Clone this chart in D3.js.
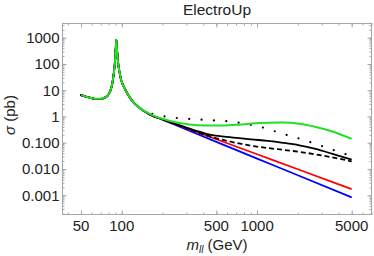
<!DOCTYPE html>
<html><head><meta charset="utf-8">
<script src="https://cdn.jsdelivr.net/npm/d3@7"></script>
<style>
html,body{margin:0;padding:0;background:#fff;}
svg{display:block;font-family:"Liberation Sans",Arial,sans-serif;}
</style></head>
<body><svg id="c" width="374" height="256"></svg>
<script>
// shared low-mass part (all curves coincide)
const massLow  = [50,55,60,65,70,75,80,84,86,88,89,90,90.6,91.2,91.8,92.5,93.5,95,97,100,105,110,118,125,136];
const sigmaLow = [6.5,5.6,5.0,4.7,4.7,5.2,7.0,13,24,60,110,270,520,830,560,300,150,75,40,21,12,7.5,4.3,3.0,2.09];

const massBlue  = [150,161,200,300,500,1000,2000,5000];
const sigmaBlue = [1.48,1.2,0.76,0.32,0.108,0.025,0.0058,0.00083];
const massRed   = [150,161,200,300,500,1000,2000,5000];
const sigmaRed  = [1.48,1.2,0.775,0.359,0.136,0.0365,0.0098,0.00172];
const massDash  = [150,161,200,300,400,500,600,750,900,1200,1600,2000,3000,4000,5000];
const sigmaDash = [1.48,1.2,0.78,0.365,0.21,0.148,0.118,0.092,0.077,0.063,0.053,0.046,0.033,0.025,0.0195];
const massSolid  = [150,161,200,250,300,350,420,550,740,900,1200,1550,2050,2700,3600,5000];
const sigmaSolid = [1.48,1.2,0.79,0.52,0.38,0.29,0.22,0.175,0.15,0.135,0.118,0.1,0.08,0.058,0.038,0.023];
const massDot  = [150,168,208,260,323,405,504,625,780,972,1212,1485,1829,2269,2795,3449,4272,5000];
const sigmaDot = [1.6,1.27,1.0,0.87,0.80,0.75,0.70,0.645,0.55,0.443,0.331,0.233,0.173,0.122,0.086,0.059,0.040,0.031];
const massGreen  = [150,161,180,210,240,317,420,558,741,877,1200,1544,2050,2720,3605,5000];
const sigmaGreen = [1.52,1.25,0.97,0.76,0.63,0.50,0.455,0.45,0.49,0.53,0.58,0.59,0.53,0.40,0.27,0.14];

const xTickVals = [50,100,500,1000,5000];
const xTickLabels = ["50","100","500","1000","5000"];
const yTickVals = [1000,100,10,1,0.1,0.01,0.001];
const yTickLabels = ["1000","100","10","1","0.100","0.010","0.001"];
const title = "ElectroUp";

const svg = d3.select("#c");
const L=62, R=372, T=23, B=215;
const x = d3.scaleLog().domain([36.2,7063]).range([L,R]);
const y = d3.scaleLog().domain([Math.pow(10,-3.75),Math.pow(10,3.56)]).range([B,T]);

// minor ticks
const xMinor=[]; for(let d=10;d<=1000;d*=10){for(let k=1;k<10;k++){const v=k*d; if(v>=x.domain()[0]&&v<=x.domain()[1]) xMinor.push(v);}}
const yMinor=[]; for(let e=-4;e<=3;e++){for(let k=1;k<10;k++){const v=k*Math.pow(10,e); if(v>=y.domain()[0]&&v<=y.domain()[1]) yMinor.push(v);}}
const frameCol="#a6a6a6";

function ticks(axisFn, scale, vals, size, tr){
  const g=svg.append("g").attr("transform",tr).call(axisFn(scale).tickValues(vals).tickSize(size).tickFormat(""));
  g.select(".domain").remove();
  g.selectAll("line").attr("stroke",frameCol).attr("stroke-width",1);
}
ticks(d3.axisBottom,x,xMinor,-2.5,`translate(0,${B})`);
ticks(d3.axisBottom,x,xTickVals,-4.5,`translate(0,${B})`);
ticks(d3.axisTop,x,xMinor,-2.5,`translate(0,${T})`);
ticks(d3.axisTop,x,xTickVals,-4.5,`translate(0,${T})`);
ticks(d3.axisLeft,y,yMinor,-2.5,`translate(${L},0)`);
ticks(d3.axisLeft,y,yTickVals,-4.5,`translate(${L},0)`);
ticks(d3.axisRight,y,yMinor,-2.5,`translate(${R},0)`);
ticks(d3.axisRight,y,yTickVals,-4.5,`translate(${R},0)`);

svg.append("rect").attr("x",L+0.5).attr("y",T+0.5).attr("width",R-L-1).attr("height",B-T-1)
  .attr("fill","none").attr("stroke",frameCol).attr("stroke-width",1);

// tick labels
svg.append("g").selectAll("text").data(xTickVals).join("text")
  .attr("x",d=>x(d)).attr("y",230.5).attr("text-anchor","middle")
  .attr("font-size",15).attr("fill","#222").text((d,i)=>xTickLabels[i]);
svg.append("g").selectAll("text").data(yTickVals).join("text")
  .attr("x",59.5).attr("y",d=>y(d)).attr("dy","0.36em").attr("text-anchor","end")
  .attr("font-size",15).attr("fill","#222").text((d,i)=>yTickLabels[i]);

// title and axis labels
svg.append("text").attr("x",(L+R)/2).attr("y",14.5).attr("text-anchor","middle")
  .attr("font-size",15.5).attr("fill","#222").text(title);
const xl=svg.append("text").attr("x",(L+R)/2).attr("y",250).attr("text-anchor","middle")
  .attr("font-size",15).attr("fill","#222");
xl.append("tspan").attr("font-style","italic").text("m");
xl.append("tspan").attr("font-style","italic").attr("font-size",10).attr("dy",3).text("ll");
xl.append("tspan").attr("dy",-3).text(" (GeV)");
const yl=svg.append("text").attr("transform","translate(15,115) rotate(-90)").attr("text-anchor","middle")
  .attr("font-size",15).attr("fill","#222");
yl.append("tspan").attr("font-style","italic").text("σ");
yl.append("tspan").text(" (pb)");

// curves
const line=d3.line().x(d=>x(d[0])).y(d=>y(d[1])).curve(d3.curveMonotoneX);
function series(ms,ss){ return massLow.map((m,i)=>[m,sigmaLow[i]]).concat(ms.map((m,i)=>[m,ss[i]])); }
const g=svg.append("g").attr("fill","none").attr("stroke-linejoin","round");
g.append("path").attr("d",line(series(massBlue,sigmaBlue))).attr("stroke","#0000ff").attr("stroke-width",1.8);
g.append("path").attr("d",line(series(massRed,sigmaRed))).attr("stroke","#ff0000").attr("stroke-width",1.8);
g.append("path").attr("d",line(series(massDash,sigmaDash))).attr("stroke","#000").attr("stroke-width",1.8).attr("stroke-dasharray","5,3");
g.append("path").attr("d",line(series(massSolid,sigmaSolid))).attr("stroke","#000").attr("stroke-width",1.8);
g.append("path").attr("d",line(series(massDot,sigmaDot))).attr("stroke","#000").attr("stroke-width",2.2).attr("stroke-linecap","round").attr("stroke-dasharray","0,12.4");
g.append("path").attr("d",line(series(massGreen,sigmaGreen))).attr("stroke","#22e022").attr("stroke-width",2);
</script></body></html>
